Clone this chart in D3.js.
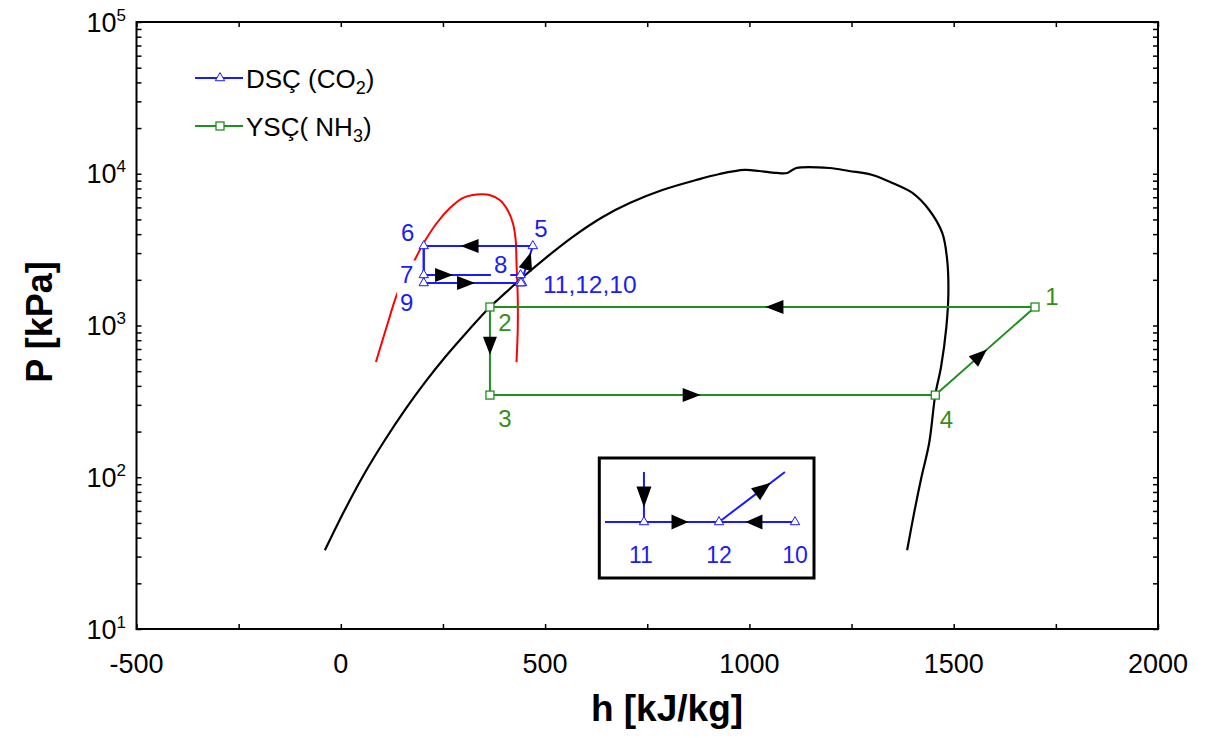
<!DOCTYPE html>
<html><head><meta charset="utf-8">
<script src="https://cdn.jsdelivr.net/npm/d3@7"></script>
<style>
body{margin:0;background:#fff}
svg{display:block;font-family:"Liberation Sans",Arial,sans-serif}
</style>
</head><body>
<svg id="c" width="1205" height="738"></svg>
<script>
// ---------------- DATA ----------------
const xTickValues = [-500, 0, 500, 1000, 1500, 2000];
const yTickExponents = [1, 2, 3, 4, 5];

// NH3 saturation dome (black)
const nh3DomeH = [-39, 10, 59, 108, 157, 206, 255, 304, 365, 389, 443, 504, 567, 641, 707, 787, 870, 927, 988, 1024, 1066, 1093, 1115, 1196, 1244, 1301, 1350, 1399, 1440, 1472, 1484, 1487, 1482, 1469, 1455, 1440, 1421, 1403, 1386];
const nh3DomeP = [33, 61, 107, 176, 278, 422, 618, 877, 1324, 1517, 2055, 2826, 3828, 5188, 6413, 7812, 9100, 9960, 10590, 10430, 10120, 10120, 10910, 10910, 10430, 9820, 8690, 7470, 5770, 4070, 2705, 1636, 977, 533, 350, 168, 100, 58, 33];

// CO2 saturation dome (red)
const co2DomeH = [86, 112, 137, 156, 181, 200, 235, 267, 298, 323, 345, 364, 389, 408, 421, 428, 430, 433, 433, 430];
const co2DomeP = [574, 977, 1589, 2055, 2705, 3396, 4737, 5940, 6918, 7244, 7320, 7244, 6714, 5770, 4737, 3656, 2582, 1542, 933, 574];

// YSÇ (NH3) cycle states
const nh3States = ["1", "2", "3", "4"];
const nh3H = [1699, 365, 365, 1455];
const nh3P = [1324, 1324, 348, 348];
const nh3Path = ["1", "2", "3", "4", "1"];
const nh3Arrows = [["1", "2", 0.478], ["2", "3", 0.44], ["3", "4", 0.453], ["4", "1", 0.45]];

// DSÇ (CO2) cycle states
const co2States = ["5", "6", "7", "8", "9", "10", "11", "12"];
const co2H = [470, 203, 203, 440, 203, 444, 438, 441];
const co2P = [3342, 3342, 2152, 2152, 1905, 1905, 1905, 1905];
const co2Paths = [["5", "6"], ["6", "7", "8", "11", "12"], ["6", "9", "10", "12"], ["12", "5"]];
const co2Arrows = [["5", "6", 0.58], ["7", "8", 0.21], ["9", "10", 0.43], ["12", "5", 0.6]];

// point labels
const nh3LabelText = ["1", "2", "3", "4"];
const co2LabelText = ["5", "6", "7", "8", "9", "11,12,10"];
const co2LabelAt = ["5", "6", "7", "8", "9", "12"];

// inset (detail of states 11, 12, 10)
const insetLabels = ["11", "12", "10"];
const insetU = [0.205, 0.6, 1.0];

const legendNames = [["DSÇ (CO", "2", ")"], ["YSÇ( NH", "3", ")"]];

// ---------------- STYLE / LAYOUT ----------------
const BLUE = "#1a1aff", GREEN = "#1f8f1f", RED = "#ff0000";
const BLUE_TXT = "#1c1cf5", GREEN_TXT = "#3a8c1a";
const svg = d3.select("#c");
const m = {l: 136.5, r: 1158, t: 22, b: 629};
const x = d3.scaleLinear().domain([-500, 2000]).range([m.l, m.r]);
const y = d3.scaleLog().domain([10, 1e5]).range([m.b, m.t]);

const nh3Pos = {}; nh3States.forEach((s, i) => nh3Pos[s] = [x(nh3H[i]), y(nh3P[i])]);
const co2Pos = {}; co2States.forEach((s, i) => co2Pos[s] = [x(co2H[i]), y(co2P[i])]);

// ticks via d3 axes (inward)
const xt = d3.range(-500, 2001, 250);
svg.append("g").attr("transform", `translate(0,${m.b})`)
  .call(d3.axisBottom(x).tickValues(xt).tickSize(-5).tickFormat(""));
svg.append("g").attr("transform", `translate(0,${m.t})`)
  .call(d3.axisTop(x).tickValues(xt).tickSize(-5).tickFormat(""));
const yt = [];
for (let e = 1; e <= 4; e++) for (let k = 1; k <= 9; k++) yt.push(k * Math.pow(10, e));
yt.push(1e5);
svg.append("g").attr("transform", `translate(${m.l},0)`)
  .call(d3.axisLeft(y).tickValues(yt).tickSize(-5).tickFormat(""));
svg.append("g").attr("transform", `translate(${m.r},0)`)
  .call(d3.axisRight(y).tickValues(yt).tickSize(-5).tickFormat(""));
svg.selectAll(".domain").remove();
svg.selectAll(".tick line").attr("stroke", "#000").attr("stroke-width", 1.5);

// frame
svg.append("rect").attr("x", m.l).attr("y", m.t).attr("width", m.r - m.l).attr("height", m.b - m.t)
  .attr("fill", "none").attr("stroke", "#000").attr("stroke-width", 2);

// tick labels
svg.append("g").selectAll("text").data(xTickValues).join("text")
  .attr("x", d => x(d)).attr("y", m.b + 44).attr("text-anchor", "middle")
  .attr("font-size", 27).attr("fill", "#000").text(d => d);
const yl = svg.append("g").selectAll("text").data(yTickExponents).join("text")
  .attr("x", 126).attr("y", d => y(Math.pow(10, d)) + 9.5).attr("text-anchor", "end")
  .attr("font-size", 27).attr("fill", "#000");
yl.append("tspan").text("10");
yl.append("tspan").attr("dy", -11).attr("font-size", 17).text(d => d);

// axis titles
svg.append("text").attr("x", 667).attr("y", 721).attr("text-anchor", "middle")
  .attr("font-size", 37).attr("font-weight", "bold").text("h [kJ/kg]");
svg.append("text").attr("transform", `translate(52,322) rotate(-90)`)
  .attr("text-anchor", "middle").attr("font-size", 36).attr("font-weight", "bold").text("P [kPa]");

// domes
const smooth = d3.line().curve(d3.curveCatmullRom.alpha(0.5));
svg.append("path").attr("d", smooth(nh3DomeH.map((h, i) => [x(h), y(nh3DomeP[i])])))
  .attr("fill", "none").attr("stroke", "#000").attr("stroke-width", 2.2);
svg.append("path").attr("d", smooth(co2DomeH.map((h, i) => [x(h), y(co2DomeP[i])])))
  .attr("fill", "none").attr("stroke", RED).attr("stroke-width", 2);

const straight = d3.line();
// NH3 cycle
svg.append("path").attr("d", straight(nh3Path.map(s => nh3Pos[s])))
  .attr("fill", "none").attr("stroke", GREEN).attr("stroke-width", 2);
// CO2 cycle
svg.append("g").selectAll("path").data(co2Paths).join("path")
  .attr("d", p => straight(p.map(s => co2Pos[s])))
  .attr("fill", "none").attr("stroke", BLUE).attr("stroke-width", 2);

// labels with white background
function label(g, txt, cx, cy, color, size, bg) {
  const t = g.append("text").attr("x", cx).attr("y", cy).attr("text-anchor", "middle")
    .attr("dominant-baseline", "central").attr("font-size", size).attr("fill", color).text(txt);
  if (bg) {
    const b = t.node().getBBox();
    g.insert("rect", () => t.node()).attr("x", b.x - 3).attr("y", b.y - 1)
      .attr("width", b.width + 6).attr("height", b.height + 3).attr("fill", "#fff");
  }
  return t;
}
const lg = svg.append("g");
const co2LabelOff = {"5": [8, -17, false], "6": [-16, -13, false], "7": [-17, 0, true], "8": [-20, -10, true], "9": [-17, 19, true]};
co2LabelText.forEach((t, i) => {
  const p = co2Pos[co2LabelAt[i]];
  if (t.length > 2) {
    lg.append("text").attr("x", p[0] + 22).attr("y", p[1] + 1).attr("dominant-baseline", "central")
      .attr("font-size", 24.5).attr("fill", BLUE_TXT).text(t);
  } else {
    const o = co2LabelOff[t];
    label(lg, t, p[0] + o[0], p[1] + o[1], BLUE_TXT, 24, o[2]);
  }
});
const nh3LabelOff = {"1": [17, -11], "2": [15, 15], "3": [15, 23], "4": [11, 24]};
nh3LabelText.forEach(t => {
  const p = nh3Pos[t], o = nh3LabelOff[t];
  label(lg, t, p[0] + o[0], p[1] + o[1], GREEN_TXT, 24, false);
});

// markers
const tri = d3.symbol().type(d3.symbolTriangle).size(38);
svg.append("g").selectAll("path").data(co2States).join("path")
  .attr("transform", s => `translate(${co2Pos[s][0]},${co2Pos[s][1]})`)
  .attr("d", tri).attr("fill", "#fff").attr("stroke", BLUE).attr("stroke-width", 1);
svg.append("g").selectAll("rect").data(nh3States).join("rect")
  .attr("x", s => nh3Pos[s][0] - 4).attr("y", s => nh3Pos[s][1] - 4)
  .attr("width", 8).attr("height", 8).attr("fill", "#fff").attr("stroke", GREEN).attr("stroke-width", 1.3);

// arrows
function arrowAt(g, a, b, f, L = 18, Wd = 14) {
  const px = a[0] + (b[0] - a[0]) * f, py = a[1] + (b[1] - a[1]) * f;
  const ang = Math.atan2(b[1] - a[1], b[0] - a[0]);
  const c = Math.cos(ang), s = Math.sin(ang);
  const tip = [px + c * L / 2, py + s * L / 2];
  const bx = px - c * L / 2, by = py - s * L / 2;
  const p1 = [bx - s * Wd / 2, by + c * Wd / 2], p2 = [bx + s * Wd / 2, by - c * Wd / 2];
  g.append("path").attr("d", d3.line()([tip, p1, p2]) + "Z").attr("fill", "#000");
}
const ag = svg.append("g");
nh3Arrows.forEach(([a, b, f]) => arrowAt(ag, nh3Pos[a], nh3Pos[b], f));
co2Arrows.forEach(([a, b, f]) => arrowAt(ag, co2Pos[a], co2Pos[b], f));

// legend
const leg = svg.append("g");
[[BLUE, "tri"], [GREEN, "sq"]].forEach(([col, mk], i) => {
  const ly = 78 + i * 48;
  leg.append("line").attr("x1", 195).attr("x2", 243).attr("y1", ly).attr("y2", ly)
    .attr("stroke", col).attr("stroke-width", 2);
  if (mk === "tri") leg.append("path").attr("transform", `translate(220,${ly})`).attr("d", tri)
    .attr("fill", "#fff").attr("stroke", col);
  else leg.append("rect").attr("x", 216).attr("y", ly - 4).attr("width", 8).attr("height", 8)
    .attr("fill", "#fff").attr("stroke", col).attr("stroke-width", 1.3);
  const t = leg.append("text").attr("x", 246).attr("y", ly + 9.5).attr("font-size", 26).attr("fill", "#000");
  t.append("tspan").text(legendNames[i][0]);
  t.append("tspan").attr("dy", 6).attr("font-size", 18).text(legendNames[i][1]);
  t.append("tspan").attr("dy", -6).text(legendNames[i][2]);
});

// inset
const ix = d3.scaleLinear().domain([0, 1]).range([605, 795]);
const iy = d3.scaleLinear().domain([0, 1]).range([522, 472]);
const ins = svg.append("g");
ins.append("rect").attr("x", ix(-0.03)).attr("y", iy(1.28)).attr("width", ix(1.1) - ix(-0.03))
  .attr("height", iy(-1.12) - iy(1.28)).attr("fill", "#fff").attr("stroke", "#000").attr("stroke-width", 3);
const iP = {"11": [ix(insetU[0]), iy(0)], "12": [ix(insetU[1]), iy(0)], "10": [ix(insetU[2]), iy(0)]};
const iStart = [ix(0), iy(0)], iTop = [ix(insetU[0]), iy(1)], iDiag = [ix(0.947), iy(1)];
[[iStart, iP["10"]], [iTop, iP["11"]], [iP["12"], iDiag]].forEach(([a, b]) =>
  ins.append("line").attr("x1", a[0]).attr("y1", a[1]).attr("x2", b[0]).attr("y2", b[1])
    .attr("stroke", BLUE).attr("stroke-width", 2));
arrowAt(ins, iTop, iP["11"], 0.5, 21, 15);
arrowAt(ins, iP["11"], iP["12"], 0.48, 17, 15);
arrowAt(ins, iP["10"], iP["12"], 0.54, 17, 15);
arrowAt(ins, iP["12"], iDiag, 0.67, 19, 15);
insetLabels.forEach((t, i) => {
  ins.append("path").attr("transform", `translate(${iP[t][0]},${iP[t][1]})`).attr("d", tri)
    .attr("fill", "#fff").attr("stroke", BLUE);
  ins.append("text").attr("x", iP[t][0] - (t === "11" ? 3 : 0)).attr("y", iP[t][1] + 33).attr("text-anchor", "middle")
    .attr("dominant-baseline", "central").attr("font-size", 23).attr("fill", BLUE_TXT).text(t);
});
</script>
</body></html>
